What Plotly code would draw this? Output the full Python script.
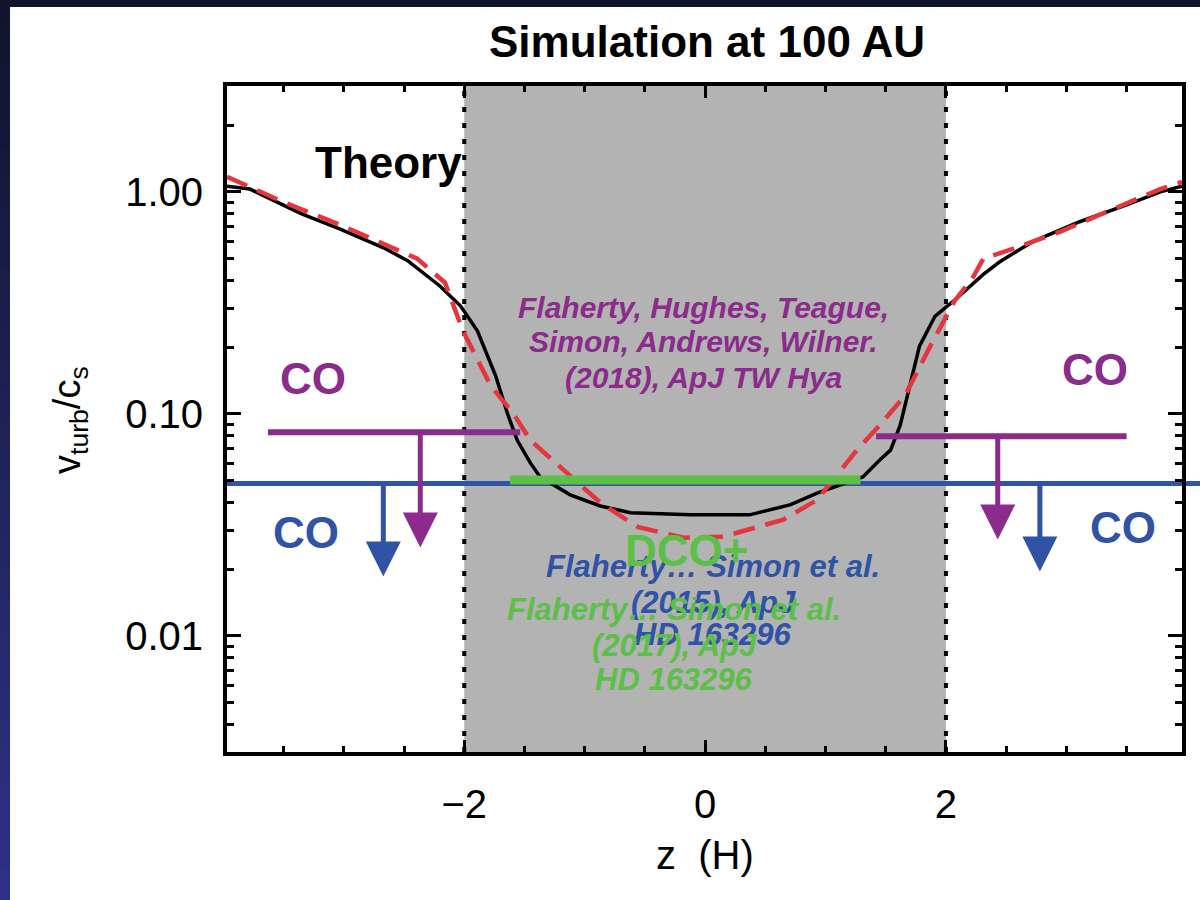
import plotly.graph_objects as go
import math

# ---------------- data ----------------
z_sim = [-3.97, -3.78, -3.36, -3.03, -2.67, -2.47, -2.20, -2.03, -1.89, -1.74, -1.64, -1.56,
         -1.45, -1.37, -1.12, -0.87, -0.62, -0.12, 0.37, 0.71, 0.93, 1.12, 1.31, 1.45, 1.54,
         1.62, 1.70, 1.78, 1.91, 2.09, 2.31, 2.45, 2.72, 3.11, 3.50, 3.78, 3.96]
v_sim = [1.06, 1.03, 0.80, 0.68, 0.56, 0.49, 0.376, 0.306, 0.236, 0.149, 0.100, 0.076,
         0.060, 0.052, 0.0432, 0.0385, 0.0359, 0.0351, 0.0351, 0.039, 0.044, 0.0479, 0.052, 0.062, 0.0687,
         0.089, 0.134, 0.202, 0.276, 0.332, 0.425, 0.486, 0.597, 0.734, 0.875, 1.0, 1.06]

z_theory = [-3.97, -3.50, -3.03, -2.39, -2.16, -2.01, -1.78, -1.59, -1.45, -1.31, -1.15, -0.87,
            -0.56, -0.18, 0.15, 0.65, 0.93, 1.26, 1.45, 1.66, 1.87, 2.07, 2.22, 2.31, 2.56,
            2.95, 3.28, 3.78, 3.96]
v_theory = [1.17, 0.90, 0.71, 0.50, 0.39, 0.236, 0.134, 0.100, 0.076, 0.065, 0.054, 0.0398,
            0.031, 0.0277, 0.028, 0.0334, 0.041, 0.0687, 0.089, 0.121, 0.202, 0.322, 0.408, 0.50, 0.556,
            0.662, 0.79, 1.03, 1.11]

dco_z = [-1.62, 1.29]
dco_v = [0.0504, 0.0504]

co_tw_left_z = [-3.63, -1.535]
co_tw_left_v = [0.0826, 0.0826]
co_tw_right_z = [1.42, 3.50]
co_tw_right_v = [0.0793, 0.0793]
co_hd_v = 0.0486

# arrows: (z, start value, tip value)
arrows_tw = [(-2.365, 0.0826, 0.025), (2.43, 0.0793, 0.0272)]
arrows_hd = [(-2.672, 0.0486, 0.0185), (2.78, 0.0486, 0.0195)]

band_z = [-2.0, 2.0]

x_major = [-2, 0, 2]
x_minor = [-3.5, -3.0, -2.5, -1.5, -1.0, -0.5, 0.5, 1.0, 1.5, 2.5, 3.0, 3.5]
y_major = [0.01, 0.1, 1.0]
y_major_text = ["0.01", "0.10", "1.00"]
y_minor = [0.003, 0.004, 0.005, 0.006, 0.007, 0.008, 0.009,
           0.02, 0.03, 0.04, 0.05, 0.06, 0.07, 0.08, 0.09,
           0.2, 0.3, 0.4, 0.5, 0.6, 0.7, 0.8, 0.9, 2.0, 3.0]

# ---------------- styling ----------------
PURPLE = "#8b2b8b"
BLUE = "#3153a5"
GREEN = "#5cbf48"
RED = "#e5353d"
FONT = "Liberation Sans"

L, R, T, B = 227, 18, 86, 148
W, H = 1200, 900
PW, PH = W - L - R, H - T - B


def px(xp):
    return (xp - L) / PW


def py(yp):
    return 1 - (yp - T) / PH


fig = go.Figure()

fig.add_trace(go.Scatter(x=z_sim, y=v_sim, mode="lines",
                         line=dict(color="black", width=3.5), hoverinfo="skip"))
fig.add_trace(go.Scatter(x=z_theory, y=v_theory, mode="lines",
                         line=dict(color=RED, width=4.5, dash="22px,11px"), hoverinfo="skip"))
fig.add_trace(go.Scatter(x=dco_z, y=dco_v, mode="lines",
                         line=dict(color=GREEN, width=9), hoverinfo="skip"))
fig.add_trace(go.Scatter(x=co_tw_left_z, y=co_tw_left_v, mode="lines",
                         line=dict(color=PURPLE, width=6), hoverinfo="skip"))
fig.add_trace(go.Scatter(x=co_tw_right_z, y=co_tw_right_v, mode="lines",
                         line=dict(color=PURPLE, width=6), hoverinfo="skip"))

shapes = []
# dark background stripes (gradient on the left edge)
nseg = 30
for i in range(nseg):
    f = i / (nseg - 1)
    c0 = (0x11, 0x14, 0x2c)
    c1 = (0x2c, 0x33, 0x86)
    col = "rgb(%d,%d,%d)" % tuple(int(a + (b - a) * f) for a, b in zip(c0, c1))
    y_top = i * H / nseg
    y_bot = (i + 1) * H / nseg + 1
    shapes.append(dict(type="rect", xref="paper", yref="paper", x0=px(-5), x1=px(10),
                       y0=py(y_bot), y1=py(y_top), fillcolor=col, line=dict(width=0), layer="below"))
# white panel
shapes.append(dict(type="rect", xref="paper", yref="paper", x0=px(10), x1=px(1205),
                   y0=py(905), y1=py(7), fillcolor="white", line=dict(width=0), layer="below"))
# gray band
shapes.append(dict(type="rect", xref="x", yref="paper", x0=band_z[0], x1=band_z[1], y0=0, y1=1,
                   fillcolor="#b3b3b3", line=dict(width=0), layer="below"))
for zb in band_z:
    shapes.append(dict(type="line", xref="x", yref="paper", x0=zb, x1=zb, y0=0, y1=1,
                       line=dict(color="black", width=4, dash="5px,11px"), layer="below"))
# blue HD 163296 CO limit, runs to the right edge of the slide
shapes.append(dict(type="line", xref="paper", yref="y", x0=0, x1=px(1205), y0=co_hd_v, y1=co_hd_v,
                   line=dict(color=BLUE, width=5), layer="below"))

annotations = []
for (zz, v0, v1), col in [(a, PURPLE) for a in arrows_tw] + [(a, BLUE) for a in arrows_hd]:
    annotations.append(dict(x=zz, y=math.log10(v1), ax=zz, ay=math.log10(v0),
                            xref="x", yref="y", axref="x", ayref="y", text="",
                            showarrow=True, arrowhead=2, arrowsize=1.4, arrowwidth=5,
                            arrowcolor=col))


def label(text, x, y, size, color, bold=True, italic=False, xref="paper", yref="paper", angle=0):
    t = text
    if italic:
        t = "<i>" + t + "</i>"
    if bold:
        t = "<b>" + t + "</b>"
    annotations.append(dict(text=t, x=x, y=y, xref=xref, yref=yref, showarrow=False,
                            xanchor="center", yanchor="middle", textangle=angle,
                            font=dict(family=FONT, size=size, color=color)))


label("Simulation at 100 AU", px(707), py(42), 44, "black")
label("Theory", px(388), py(162), 44, "black")
label("CO", px(313), py(378), 44, PURPLE)
label("CO", px(1095), py(370), 44, PURPLE)
label("CO", px(306), py(532), 44, BLUE)
label("CO", px(1123), py(527), 44, BLUE)

for txt, yy in [("Flaherty, Hughes, Teague,", 307), ("Simon, Andrews, Wilner.", 341),
                ("(2018), ApJ TW Hya", 377)]:
    label(txt, px(703), py(yy), 30, PURPLE, italic=True)
for txt, yy in [("Flaherty… Simon et al.", 566), ("(2015), ApJ", 602), ("HD 163296", 634)]:
    label(txt, px(713), py(yy), 31, BLUE, italic=True)
label("DCO+", px(686), py(550), 44, GREEN)
for txt, yy in [("Flaherty… Simon et al.", 609), ("(2017), ApJ", 645), ("HD 163296", 679)]:
    label(txt, px(674), py(yy), 31, GREEN, italic=True)

# axis titles
label("z  (H)", px(705), py(855), 40, "black", bold=False)
label("v<sub>turb</sub>/c<sub>s</sub>", px(70), py(420), 38, "black", bold=False, angle=-90)

fig.update_layout(
    width=W, height=H, autosize=False,
    margin=dict(l=L, r=R, t=T, b=B, pad=0),
    paper_bgcolor="#11142c", plot_bgcolor="white",
    showlegend=False,
    shapes=shapes, annotations=annotations,
    font=dict(family=FONT, color="black"),
)
fig.update_xaxes(
    range=[-3.97, 3.96], tickmode="array", tickvals=x_major,
    ticks="inside", ticklen=12, tickwidth=3, tickcolor="black",
    showline=True, linewidth=4, linecolor="black", mirror="allticks",
    showgrid=False, zeroline=False, ticklabelstandoff=14,
    tickfont=dict(family=FONT, size=40, color="black"),
    minor=dict(tickmode="array", tickvals=x_minor, ticks="inside", ticklen=6, tickwidth=3,
               tickcolor="black", showgrid=False),
)
fig.update_yaxes(
    type="log", range=[math.log10(0.003), math.log10(3)],
    tickmode="array", tickvals=y_major, ticktext=y_major_text,
    ticks="inside", ticklen=14, tickwidth=3, tickcolor="black",
    showline=True, linewidth=4, linecolor="black", mirror="allticks",
    showgrid=False, zeroline=False, ticklabelstandoff=12,
    tickfont=dict(family=FONT, size=40, color="black"),
    minor=dict(tickmode="array", tickvals=y_minor, ticks="inside", ticklen=7, tickwidth=3,
               tickcolor="black", showgrid=False),
)

fig.write_html("out.html")
